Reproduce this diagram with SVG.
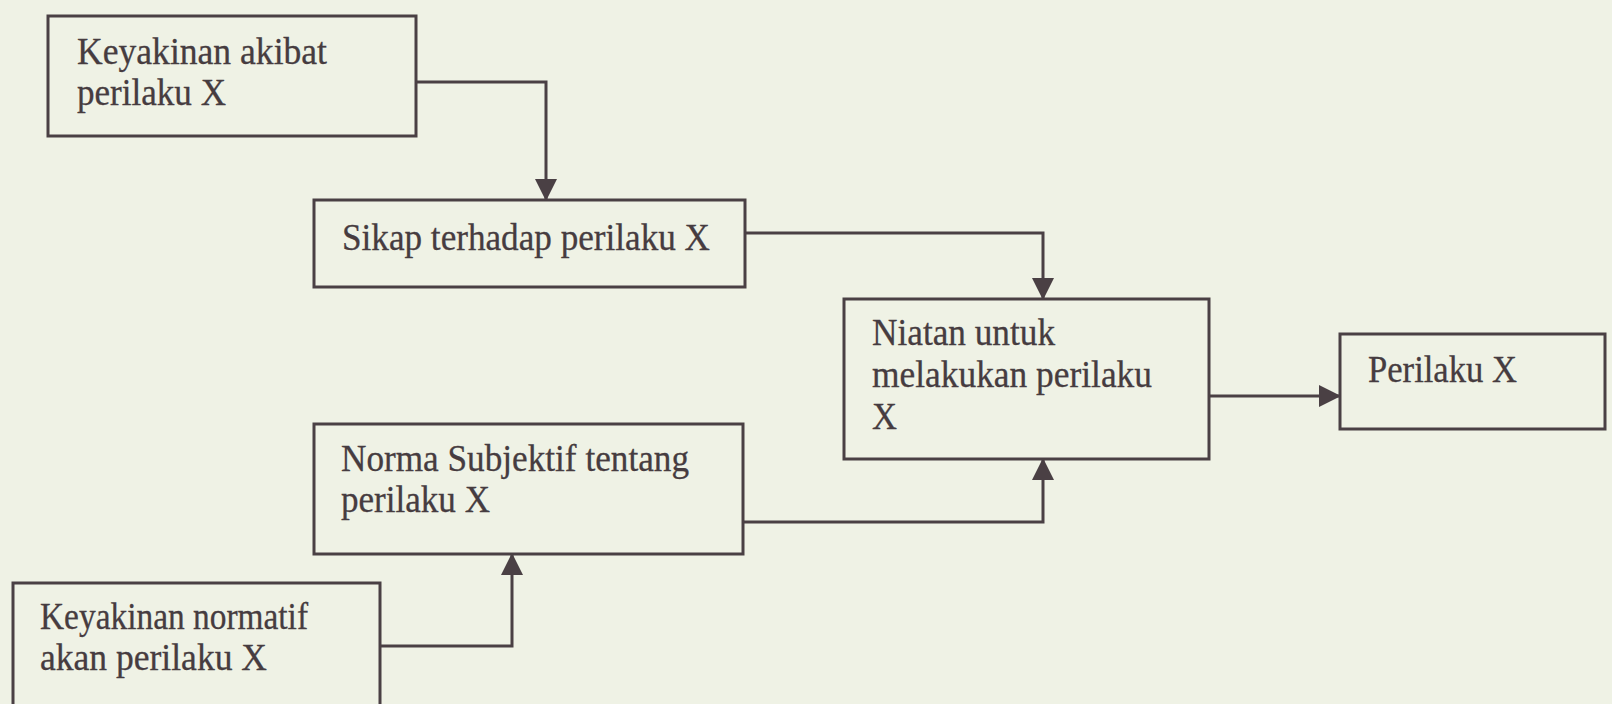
<svg xmlns="http://www.w3.org/2000/svg" width="1612" height="704" viewBox="0 0 1612 704">
<defs>
<style>
.box{fill:none;stroke:#4a4044;stroke-width:3}
.lbl{font-family:"Liberation Serif","Times New Roman",serif;font-size:37px;fill:#463c40;stroke:#463c40;stroke-width:0.3}
.conn{fill:none;stroke:#4a4044;stroke-width:3}
</style>
<marker id="arr" markerUnits="userSpaceOnUse" markerWidth="22" markerHeight="22" viewBox="0 0 22 22" refX="21" refY="11" orient="auto">
<path d="M0,0 L22,11 L0,22 Z" fill="#4a4044"/>
</marker>
</defs>
<rect width="1612" height="704" fill="#eff2e5"/>
<g id="connectors">
<path class="conn" d="M416,82 H546 V200" marker-end="url(#arr)"/>
<path class="conn" d="M745,233 H1043 V299" marker-end="url(#arr)"/>
<path class="conn" d="M1209,396 H1340" marker-end="url(#arr)"/>
<path class="conn" d="M743,522 H1043 V459" marker-end="url(#arr)"/>
<path class="conn" d="M380,646 H512 V554" marker-end="url(#arr)"/>
</g>
<g id="n1">
<rect class="box" x="48" y="16" width="368" height="120"/>
<text class="lbl" x="77" y="64" textLength="250" lengthAdjust="spacingAndGlyphs">Keyakinan akibat</text>
<text class="lbl" x="77" y="105" textLength="149" lengthAdjust="spacingAndGlyphs">perilaku X</text>
</g>
<g id="n2">
<rect class="box" x="314" y="200" width="431" height="87"/>
<text class="lbl" x="342" y="250" textLength="368" lengthAdjust="spacingAndGlyphs">Sikap terhadap perilaku X</text>
</g>
<g id="n3">
<rect class="box" x="844" y="299" width="365" height="160"/>
<text class="lbl" x="872" y="345" textLength="183" lengthAdjust="spacingAndGlyphs">Niatan untuk</text>
<text class="lbl" x="872" y="387" textLength="280" lengthAdjust="spacingAndGlyphs">melakukan perilaku</text>
<text class="lbl" x="872" y="429" textLength="25" lengthAdjust="spacingAndGlyphs">X</text>
</g>
<g id="n4">
<rect class="box" x="1340" y="334" width="265" height="95"/>
<text class="lbl" x="1368" y="382" textLength="149" lengthAdjust="spacingAndGlyphs">Perilaku X</text>
</g>
<g id="n5">
<rect class="box" x="314" y="424" width="429" height="130"/>
<text class="lbl" x="341" y="471" textLength="348" lengthAdjust="spacingAndGlyphs">Norma Subjektif tentang</text>
<text class="lbl" x="341" y="512" textLength="149" lengthAdjust="spacingAndGlyphs">perilaku X</text>
</g>
<g id="n6">
<rect class="box" x="13" y="583" width="367" height="140"/>
<text class="lbl" x="40" y="629" textLength="268" lengthAdjust="spacingAndGlyphs">Keyakinan normatif</text>
<text class="lbl" x="40" y="670" textLength="227" lengthAdjust="spacingAndGlyphs">akan perilaku X</text>
</g>
</svg>
